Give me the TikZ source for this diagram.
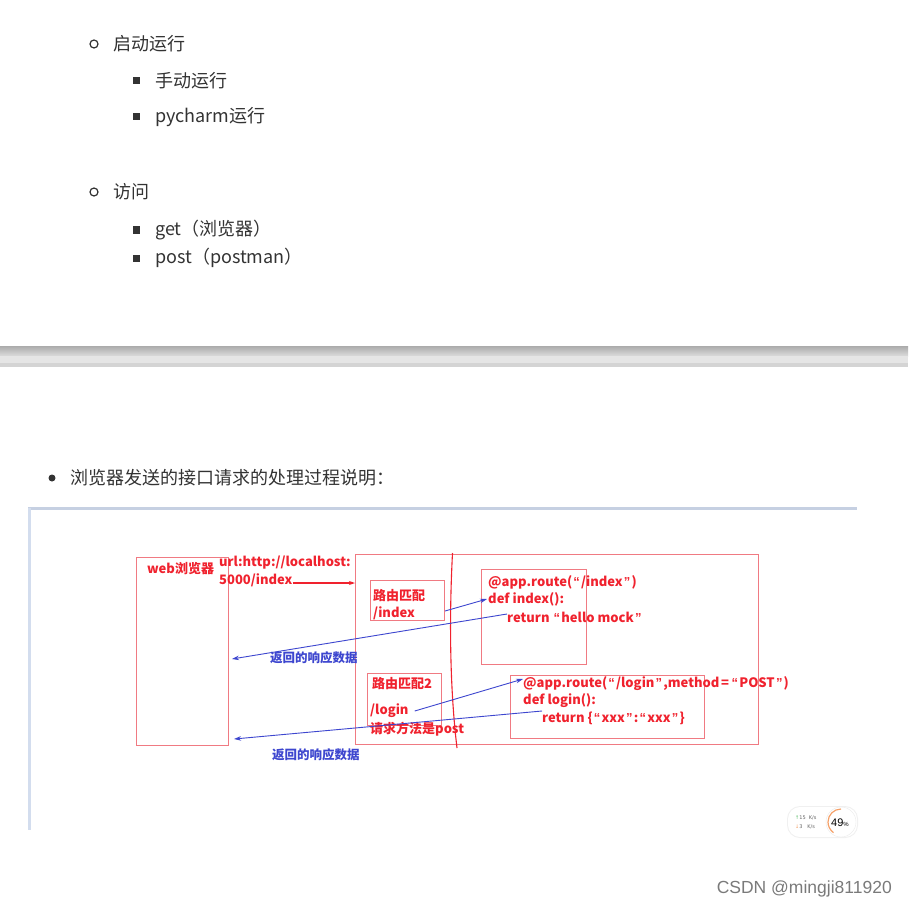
\documentclass[tikz,border=0pt]{standalone}
\usepackage{fontspec}
\setmainfont{Noto Sans CJK SC}
\newfontfamily\dejavu{DejaVu Sans}
\newfontfamily\arialish{Liberation Sans}
\newcommand\oqt{\hspace{1.2pt}{\arialish\bfseries “}\hspace{1.2pt}}
\newcommand\cqt{\hspace{1.2pt}{\arialish\bfseries ”}\hspace{1.2pt}}
\usetikzlibrary{arrows.meta}
\definecolor{txt}{HTML}{333333}
\definecolor{rd}{HTML}{F0222E}
\definecolor{rdbox}{HTML}{F07A82}
\definecolor{bl}{HTML}{3D46CF}
\definecolor{frmtop}{HTML}{C6D0E2}
\definecolor{frmleft}{HTML}{D3DDEE}
\definecolor{orng}{HTML}{F5A068}
\definecolor{grn}{HTML}{5BBF6A}
\tikzset{
  listtxt/.style={anchor=west, inner sep=0pt, text=txt, font=\fontsize{18}{20}\selectfont},
  sqbullet/.style={fill=txt, draw=none, minimum size=7pt, inner sep=0pt},
  ringbullet/.style={circle, draw=txt, line width=1.2pt, minimum size=8pt, inner sep=0pt},
  dotbullet/.style={circle, fill=txt, minimum size=7pt, inner sep=0pt},
  redtxt/.style={anchor=west, inner sep=0pt, text=rd, font=\bfseries\fontsize{13}{15}\selectfont},
  bluetxt/.style={anchor=west, inner sep=0pt, text=bl, font=\bfseries\fontsize{12.5}{15}\selectfont},
  rbox/.style={draw=rdbox, line width=1pt, anchor=north west, inner sep=0pt},
  rarrow/.style={draw=rd, line width=1.2pt, -{Stealth[length=6pt,width=4pt]}},
  barrow/.style={draw=bl, line width=0.9pt, -{Stealth[length=7pt,width=4.5pt]}},
}
\begin{document}
\begin{tikzpicture}[x=1pt,y=-1pt]
\useasboundingbox (0,0) rectangle (908,909);
\fill[white] (0,0) rectangle (908,909);

% ---- top list ----
\node[ringbullet] (b1) at (94,44) {};
\node[listtxt] (t1) at (113,44) {启动运行};
\node[sqbullet] (b2) at (136,81) {};
\node[listtxt] (t2) at (155,81) {手动运行};
\node[sqbullet] (b3) at (136,117) {};
\node[listtxt] (t3) at (155,117) {pycharm运行};
\node[ringbullet] (b4) at (94,192) {};
\node[listtxt] (t4) at (113,192) {访问};
\node[sqbullet] (b5) at (136,230) {};
\node[listtxt] (t5) at (155,230) {get（浏览器）};
\node[sqbullet] (b6) at (136,258) {};
\node[listtxt] (t6) at (155,258) {post（postman）};

% ---- grey separator bar ----
\shade[top color=black!33, bottom color=black!14] (0,346) rectangle (908,356);
\fill[black!10] (0,356) rectangle (908,363);
\fill[black!17] (0,363) rectangle (908,367);

% ---- second bullet ----
\node[dotbullet] (b7) at (52,478) {};
\node[listtxt] (t7) at (70,478) {浏览器发送的接口请求的处理过程说明：};

% ---- image frame ----
\draw[frmtop, line width=3pt] (28,508) -- (857,508);
\draw[frmleft, line width=3pt] (29.5,508) -- (29.5,830);

% ---- diagram boxes ----
\node[rbox, minimum width=92pt, minimum height=188pt] (web) at (136,557) {};
\node[rbox, minimum width=403pt, minimum height=190pt] (server) at (355,554) {};
\node[rbox, minimum width=74pt, minimum height=40pt] (r1) at (370,580) {};
\node[rbox, minimum width=74pt, minimum height=52pt] (r2) at (367,673) {};
\node[rbox, minimum width=105pt, minimum height=95pt] (c1) at (481,569) {};
\node[rbox, minimum width=194pt, minimum height=63pt] (c2) at (510,675) {};

% separator wavy line
\draw[rd, line width=1.1pt] (452.5,553) .. controls (449,620) and (450,690) .. (457,748);

% ---- diagram texts ----
\node[redtxt] (webl) at (147,569) {web浏览器};
\node[redtxt] (url1) at (219,563) {url:http://localhost:};
\node[redtxt] (url2) at (219,580) {5000/index};
\node[redtxt] (r1a) at (373,596) {路由匹配};
\node[redtxt] (r1b) at (373,613) {/index};
\node[redtxt] (r2a) at (372,684) {路由匹配2};
\node[redtxt] (r2b) at (370,711) {/login};
\node[redtxt] (r2c) at (370,729) {请求方法是post};
\node[redtxt] (c1a) at (488,582) {@app.route(\oqt/index\cqt)};
\node[redtxt] (c1b) at (488,599) {def index():};
\node[redtxt] (c1c) at (507,617) {return \oqt hello mock\cqt};
\node[redtxt] (c2a) at (523,684) {@app.route(\oqt/login\cqt,method\hspace{1.5pt}=\hspace{1.5pt}\oqt POST\cqt)};
\node[redtxt] (c2b) at (523,701) {def login():};
\node[redtxt] (c2c) at (542,718) {return \{\oqt xxx\cqt:\oqt xxx\cqt\}};
\node[bluetxt] (resp1) at (270,658) {返回的响应数据};
\node[bluetxt] (resp2) at (272,755) {返回的响应数据};

% ---- connectors ----
\draw[rarrow] (url2.east |- 0,583) -- (server.west |- 0,583);
\coordinate (a1s) at (r1.east |- 0,611);
\coordinate (a1e) at ([xshift=-1pt]c1b.west);
\draw[barrow] (a1s) -- (a1e);
\coordinate (a2s) at ([yshift=3pt]c1c.west);
\coordinate (a2e) at ([xshift=3pt]web.east |- 0,659);
\draw[barrow] (a2s) -- (a2e);
\coordinate (a3s) at ([xshift=6pt]r2b.east);
\coordinate (a3e) at ([yshift=5pt]c2a.west);
\draw[barrow] (a3s) -- (a3e);
\coordinate (a4s) at ([yshift=7pt]c2c.west);
\coordinate (a4e) at ([xshift=5pt]web.east |- 0,739);
\draw[barrow] (a4s) -- (a4e);

% ---- small speed widget ----
\fill[black!6, rounded corners=13pt] (787,806) rectangle (858,838);
\fill[white, rounded corners=12pt] (788,807) rectangle (857,837);
\node[circle, fill=white, draw=black!8, minimum size=30pt, inner sep=0pt] (gauge) at (841,822) {};
\draw[orng, line width=1.2pt] (gauge.center) ++(0,-13) arc[start angle=90, end angle=235, radius=13pt];
\node[inner sep=0pt, font=\arialish\fontsize{11}{12}\selectfont] (pct) at (840,823) {49{\fontsize{6}{6}\selectfont\%}};
\node[anchor=west, inner sep=0pt, font=\dejavu\fontsize{5}{6}\selectfont, text=black!60] (up) at (795,818) {{\color{grn}↑}15 \ K/s};
\node[anchor=west, inner sep=0pt, font=\dejavu\fontsize{5}{6}\selectfont, text=black!60] (down) at (795,827) {{\color{orng}↓}3 \ \ K/s};

% ---- watermark ----
\node[anchor=east, inner sep=0pt, text=black!52, font=\arialish\fontsize{17.5}{19}\selectfont] (wm) at (892,889) {CSDN @mingji811920};
\end{tikzpicture}
\end{document}
